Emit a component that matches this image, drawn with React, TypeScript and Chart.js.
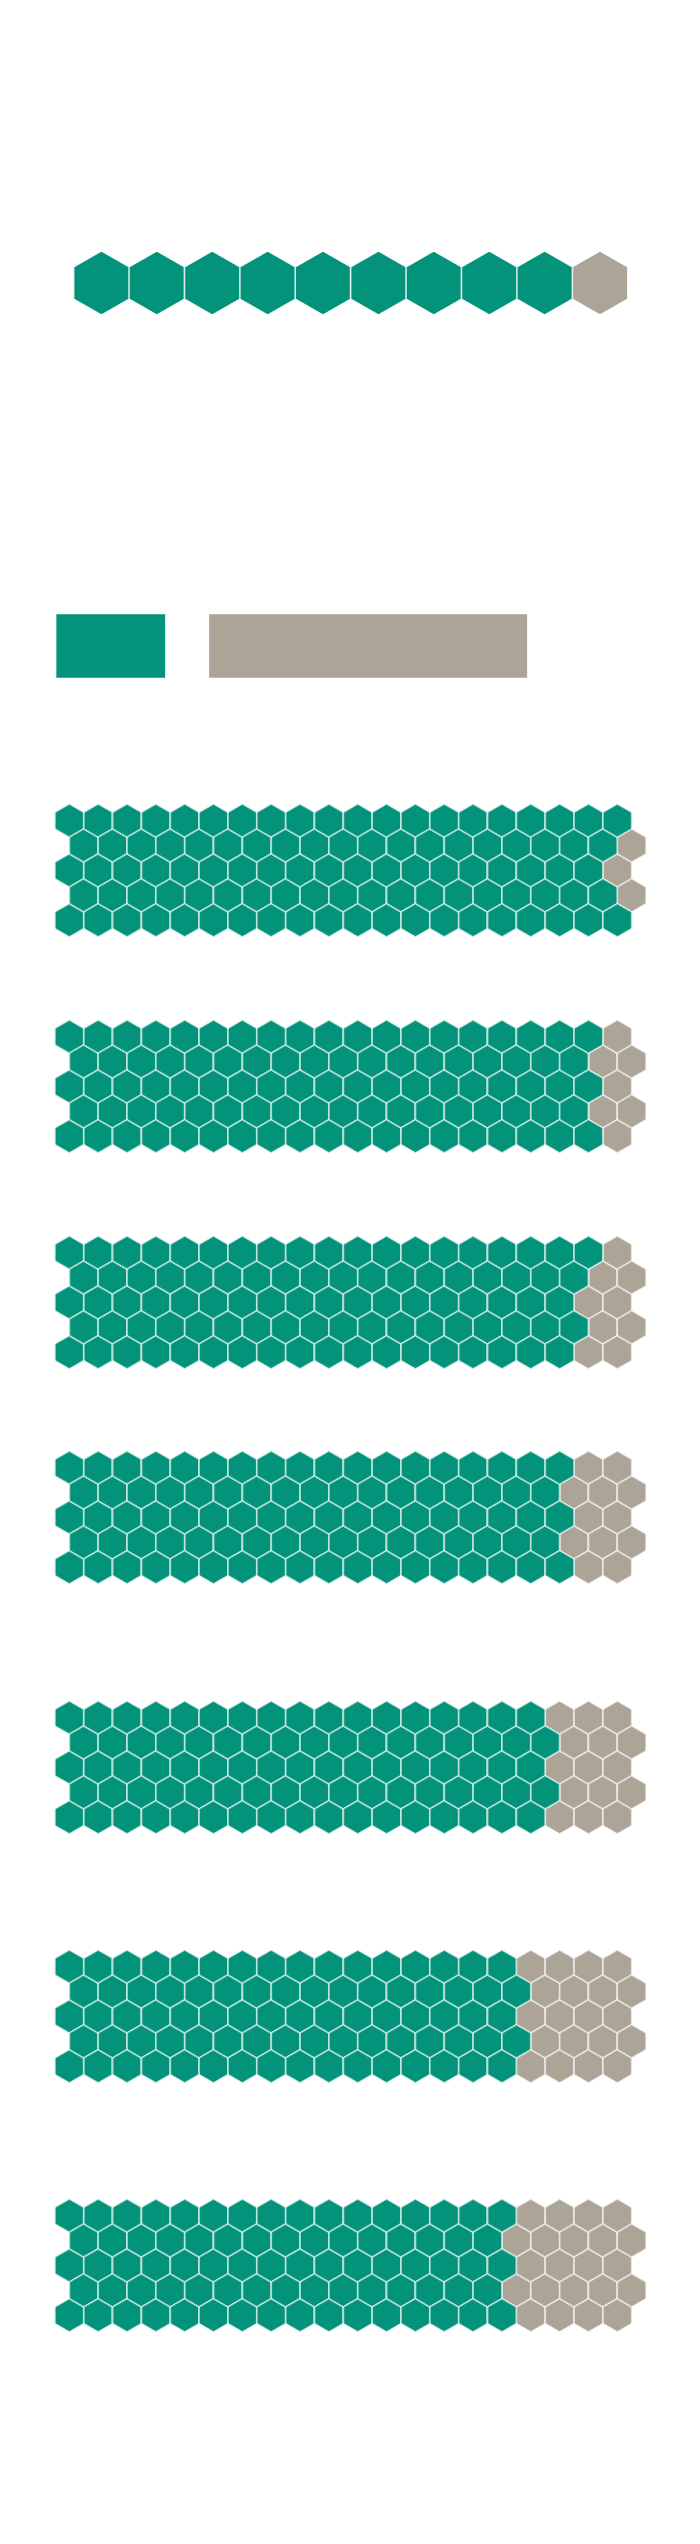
import { useEffect, useRef } from "react"
import { Chart, registerables } from "chart.js"

Chart.register(...registerables)

const GREEN = "#03927a"
const GRAY = "#aca597"

// row of big hexagons: green, gray
const topHexCounts = [9, 1]

// floating bars (start, end)
const barLabels = ["share"]
const barGreen: [number, number] = [0, 23]
const barGray: [number, number] = [32.5, 100]

// green cells out of 100 in each hex grid
const gridShares = [97, 93, 91, 88, 85, 80, 78]

// layout
const PAGE_W = 700
const gridTops = [804, 1020, 1236, 1451, 1701, 1950, 2199]
const GRID_H = 200
const GRID_PAD = 30
const GRID_X0 = 69.3
const GRID_DX = 14.42
const GRID_R = 16.6
const GRID_PITCH = 24.9
const TOP_ROW_Y = 228
const TOP_ROW_H = 110
const TOP_X0 = 101.4
const TOP_DX = 55.4
const TOP_R = 31.8
const BAR_Y = 604
const BAR_H = 84

// hexagon drawn on its own canvas, used as point style
function makeHex(halfW: number, r: number, color: string) {
  const c = document.createElement("canvas")
  c.width = Math.ceil(halfW * 2) + 2
  c.height = Math.ceil(r * 2) + 2
  const ctx = c.getContext("2d")!
  const cx = c.width / 2
  const cy = c.height / 2
  ctx.beginPath()
  ctx.moveTo(cx, cy - r)
  ctx.lineTo(cx + halfW, cy - r / 2)
  ctx.lineTo(cx + halfW, cy + r / 2)
  ctx.lineTo(cx, cy + r)
  ctx.lineTo(cx - halfW, cy + r / 2)
  ctx.lineTo(cx - halfW, cy - r / 2)
  ctx.closePath()
  ctx.fillStyle = color
  ctx.fill()
  ctx.strokeStyle = "#ffffff"
  ctx.lineWidth = 1
  ctx.stroke()
  return c
}

// fill order of the 5 x 20 offset grid, left to right
function gridCells() {
  const cells: { x: number; y: number }[] = []
  for (let p = 0; p < 40; p++) {
    const rows = p % 2 === 0 ? [0, 4, 2] : [1, 3]
    rows.forEach((row) => cells.push({ x: p, y: row }))
  }
  return cells
}

const baseOptions = {
  animation: false as const,
  responsive: false,
  events: [],
  layout: { autoPadding: false, padding: 0 },
  plugins: { legend: { display: false }, tooltip: { enabled: false } },
}

function gridConfig(share: number): any {
  const cells = gridCells()
  return {
    type: "scatter",
    data: {
      datasets: [
        { data: cells.slice(0, share), pointStyle: makeHex(GRID_DX, GRID_R, GREEN), pointRadius: 14, clip: false },
        { data: cells.slice(share), pointStyle: makeHex(GRID_DX, GRID_R, GRAY), pointRadius: 14, clip: false },
      ],
    },
    options: {
      ...baseOptions,
      scales: {
        x: { type: "linear", display: false, min: -GRID_X0 / GRID_DX, max: (PAGE_W - GRID_X0) / GRID_DX },
        y: {
          type: "linear",
          display: false,
          reverse: true,
          min: -(GRID_PAD + GRID_R) / GRID_PITCH,
          max: (GRID_H - GRID_PAD - GRID_R) / GRID_PITCH,
        },
      },
    },
  }
}

function topRowConfig(): any {
  const green: { x: number; y: number }[] = []
  const gray: { x: number; y: number }[] = []
  for (let i = 0; i < topHexCounts[0] + topHexCounts[1]; i++) {
    ;(i < topHexCounts[0] ? green : gray).push({ x: i, y: 0 })
  }
  return {
    type: "scatter",
    data: {
      datasets: [
        { data: green, pointStyle: makeHex(TOP_DX / 2, TOP_R, GREEN), pointRadius: 28, clip: false },
        { data: gray, pointStyle: makeHex(TOP_DX / 2, TOP_R, GRAY), pointRadius: 28, clip: false },
      ],
    },
    options: {
      ...baseOptions,
      scales: {
        x: { type: "linear", display: false, min: -TOP_X0 / TOP_DX, max: (PAGE_W - TOP_X0) / TOP_DX },
        y: { type: "linear", display: false, min: -1, max: 1 },
      },
    },
  }
}

function barConfig(): any {
  const unit = (526.8 - 56.7) / 100
  return {
    type: "bar",
    data: {
      labels: barLabels,
      datasets: [
        { data: [barGreen], backgroundColor: GREEN, grouped: false, barThickness: 63 },
        { data: [barGray], backgroundColor: GRAY, grouped: false, barThickness: 63 },
      ],
    },
    options: {
      ...baseOptions,
      indexAxis: "y",
      scales: {
        x: { type: "linear", display: false, min: -56.7 / unit, max: (PAGE_W - 56.7) / unit },
        y: { display: false },
      },
    },
  }
}

function ChartCanvas({ top, height, build }: { top: number; height: number; build: () => any }) {
  const ref = useRef<HTMLCanvasElement>(null)

  useEffect(() => {
    if (!ref.current) return
    const chart = new Chart(ref.current, build())
    return () => chart.destroy()
  }, [build])

  return (
    <canvas
      ref={ref}
      width={PAGE_W}
      height={height}
      style={{ position: "absolute", left: 0, top, width: PAGE_W, height }}
    />
  )
}

const gridBuilders = gridShares.map((share) => () => gridConfig(share))

export default function App() {
  return (
    <div style={{ position: "absolute", left: 0, top: 0, width: PAGE_W, height: 2544, background: "#fff" }}>
      <ChartCanvas top={TOP_ROW_Y} height={TOP_ROW_H} build={topRowConfig} />
      <ChartCanvas top={BAR_Y} height={BAR_H} build={barConfig} />
      {gridBuilders.map((build, i) => (
        <ChartCanvas key={i} top={gridTops[i] - GRID_PAD} height={GRID_H} build={build} />
      ))}
    </div>
  )
}
